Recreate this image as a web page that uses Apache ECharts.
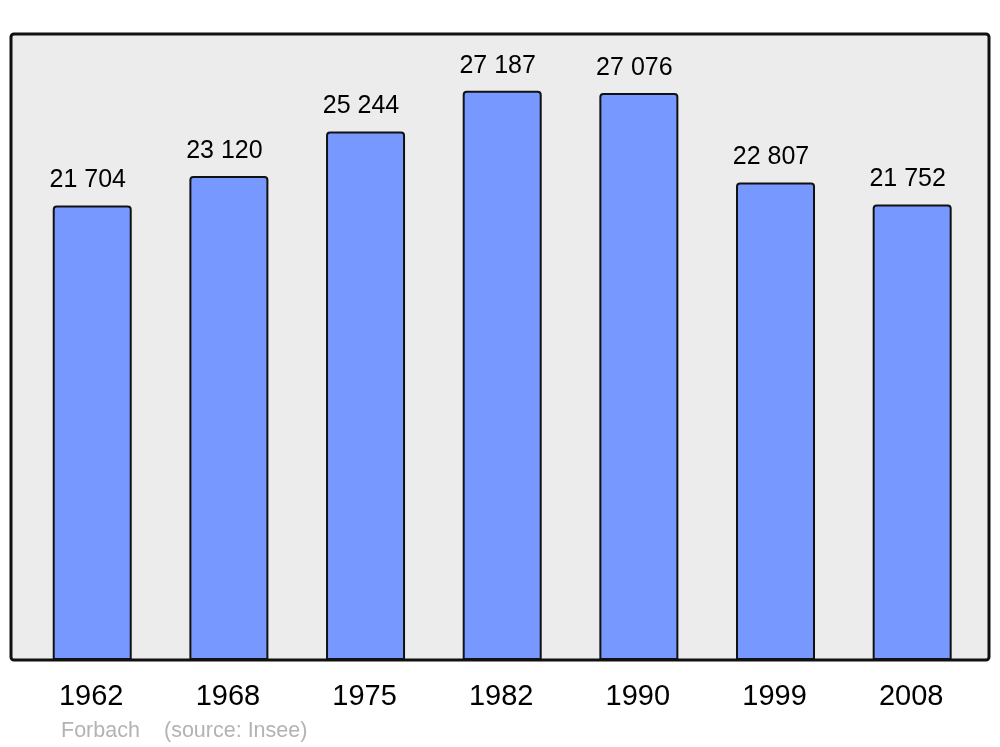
<!DOCTYPE html>
<html>
<head>
<meta charset="utf-8">
<script src="https://cdn.jsdelivr.net/npm/echarts@6/dist/echarts.min.js"></script>
<style>
  html, body { margin: 0; padding: 0; background: #fff; }
  #chart { width: 1000px; height: 747px; }
</style>
</head>
<body>
<div id="chart"></div>
<script>
const years = ['1962', '1968', '1975', '1982', '1990', '1999', '2008']
const population = [21704, 23120, 25244, 27187, 27076, 22807, 21752]

const fmt = v => String(v).replace(/\B(?=(\d{3})+(?!\d))/g, ' ')

const chart = echarts.init(document.getElementById('chart'))
chart.setOption({
  animation: false,
  textStyle: { fontFamily: 'Liberation Sans, Arial, sans-serif' },
  graphic: [
    {
      type: 'rect',
      z: -10,
      shape: { x: 11, y: 34, width: 978, height: 626, r: 3 },
      style: { fill: '#ececec', stroke: '#111', lineWidth: 3 }
    },
    {
      type: 'text',
      left: 61, top: 720,
      style: { text: 'Forbach', fill: '#b3b3b3', font: '21.5px Liberation Sans, Arial, sans-serif' }
    },
    {
      type: 'text',
      left: 164, top: 720,
      style: { text: '(source: Insee)', fill: '#b3b3b3', font: '21.5px Liberation Sans, Arial, sans-serif' }
    }
  ],
  grid: { left: 23.9, right: 19.5, top: 34, bottom: 87 },
  xAxis: {
    type: 'category',
    data: years,
    axisLine: { show: false },
    axisTick: { show: false },
    axisLabel: { color: '#000', fontSize: 29, margin: 22.5, padding: [0, 2, 0, 0] }
  },
  yAxis: {
    type: 'value',
    min: 0,
    max: 29900,
    show: false,
    splitLine: { show: false }
  },
  series: [{
    type: 'bar',
    data: population,
    barWidth: 79,
    itemStyle: {
      color: '#7799ff',
      borderColor: '#111',
      borderWidth: 2,
      borderRadius: [3, 3, 0, 0]
    },
    label: {
      show: true,
      position: 'top',
      distance: 12.5,
      offset: [-4.5, 0],
      color: '#000',
      fontSize: 25,
      formatter: p => fmt(p.value)
    }
  }]
})
</script>
</body>
</html>
